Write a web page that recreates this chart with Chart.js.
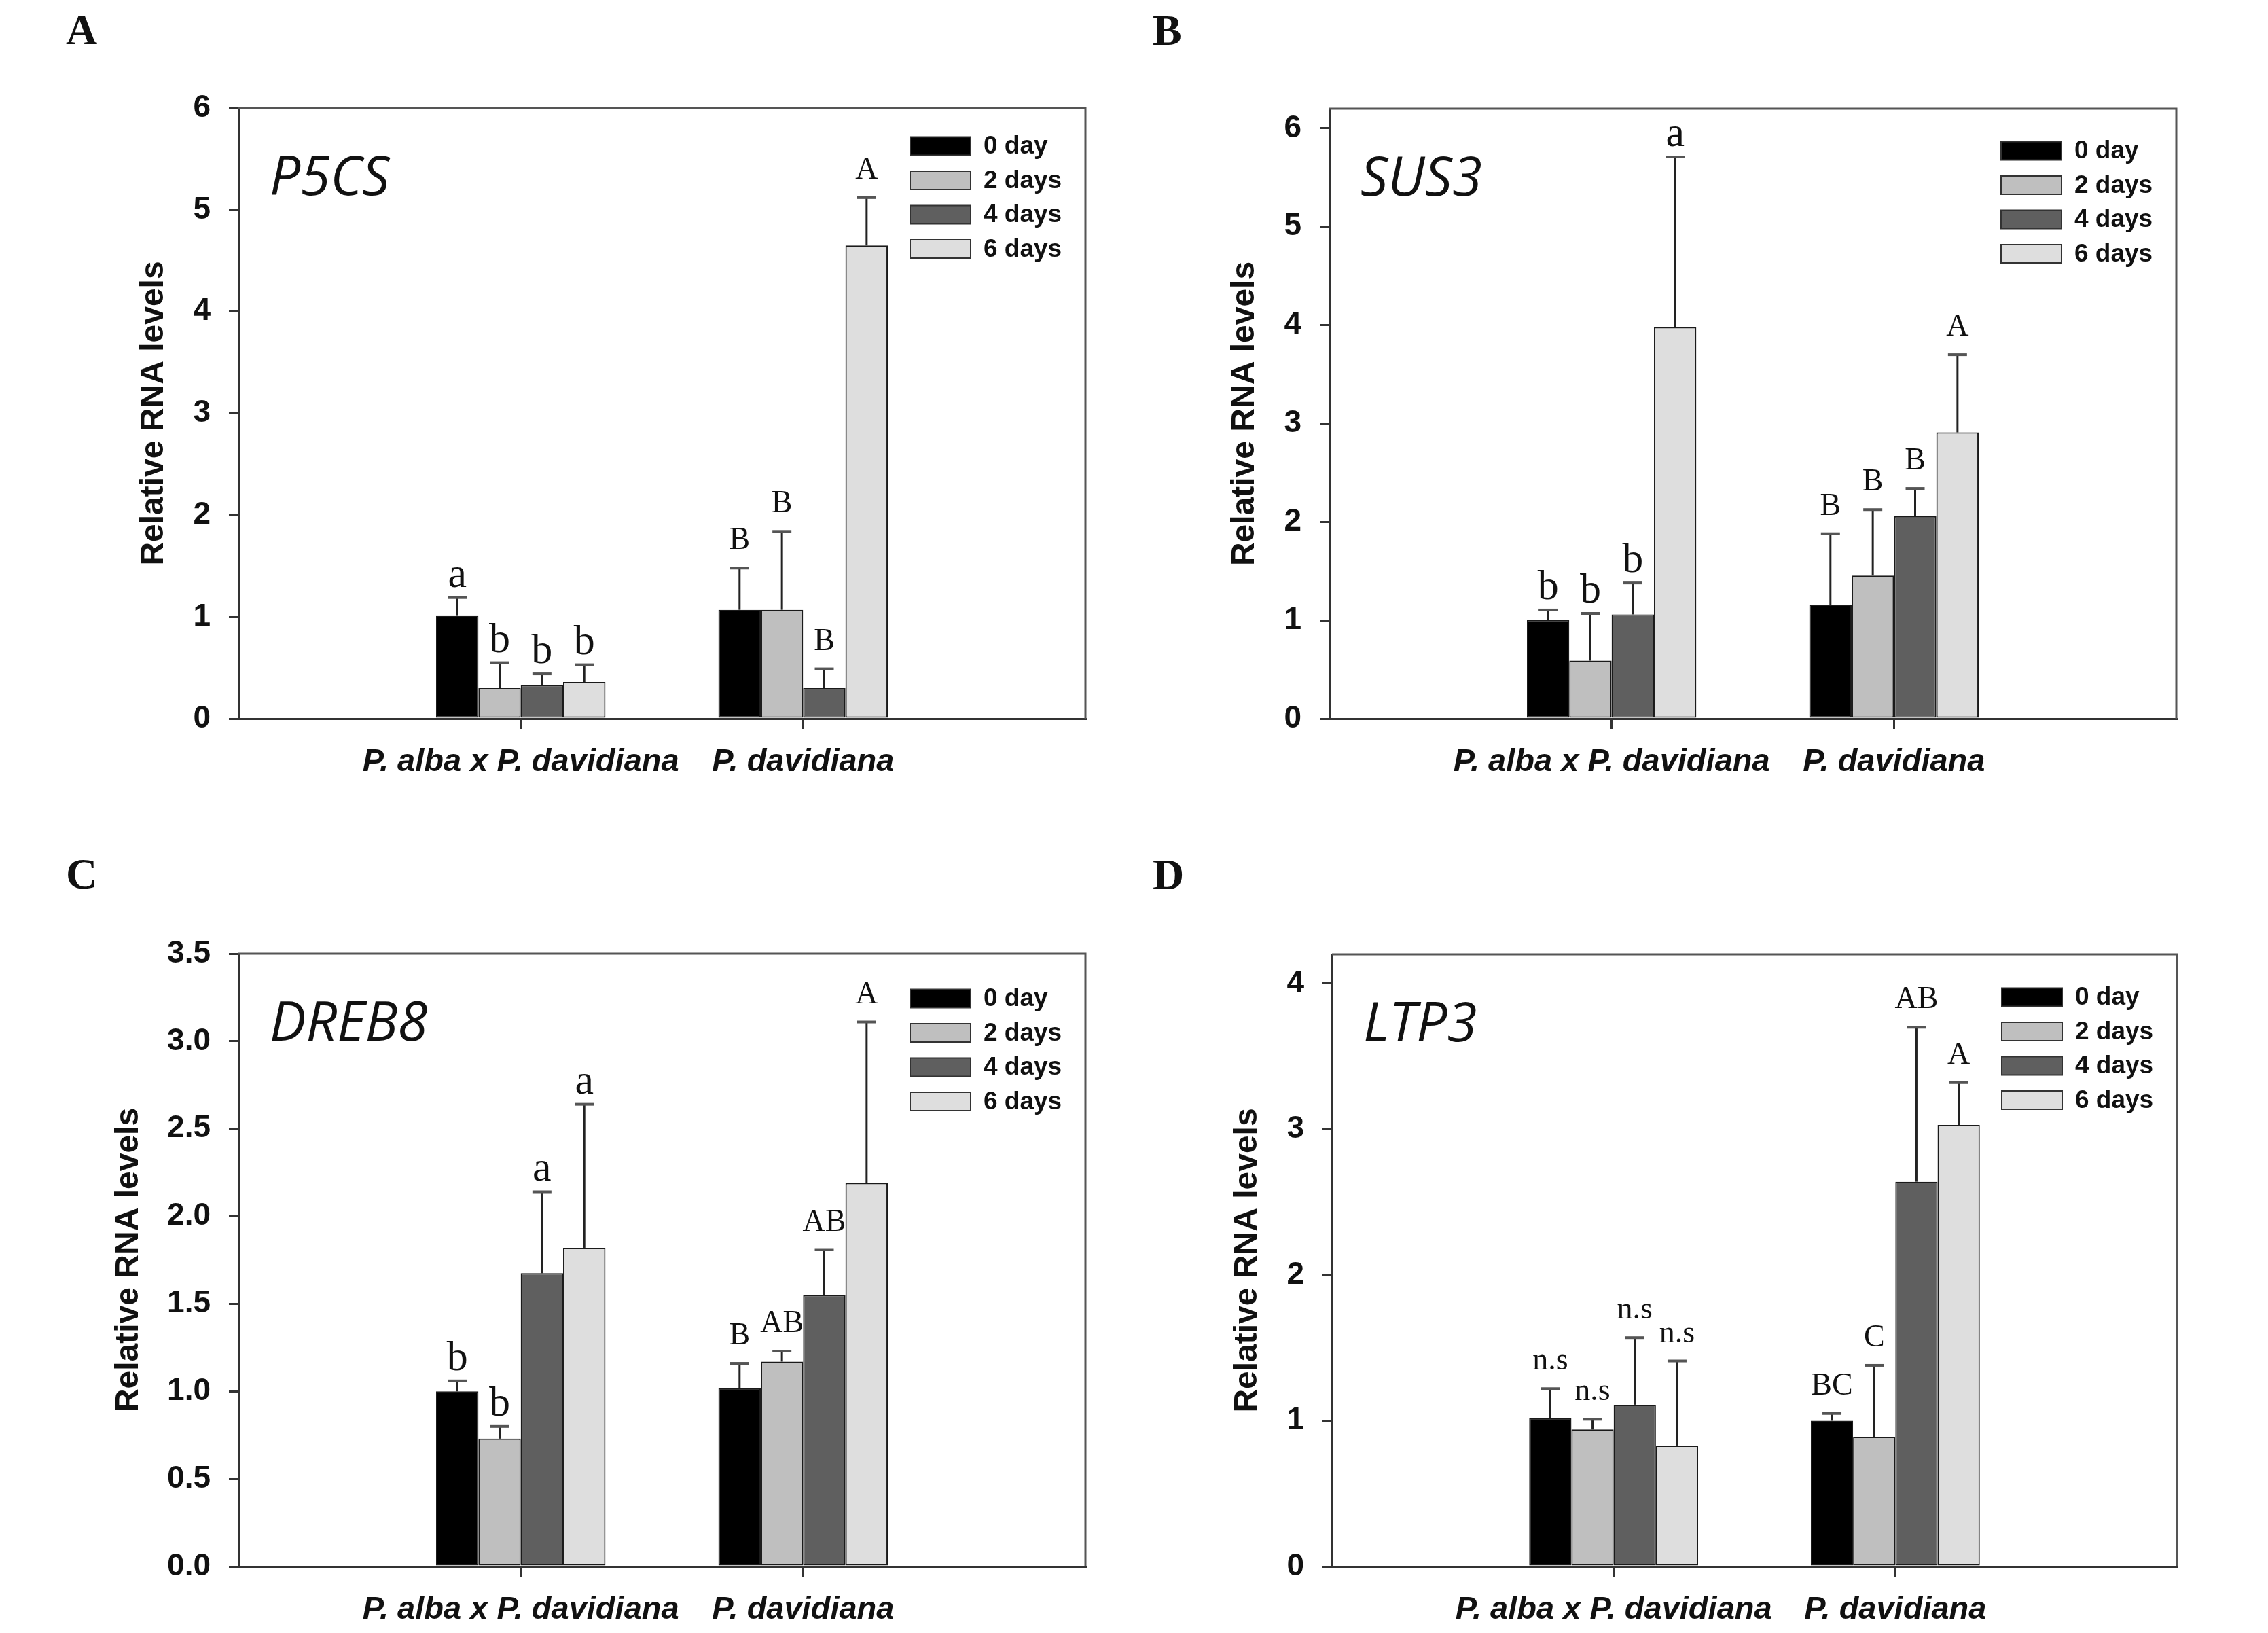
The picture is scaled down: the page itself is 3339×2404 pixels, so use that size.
<!DOCTYPE html>
<html>
<head>
<meta charset="utf-8">
<script src="https://cdn.jsdelivr.net/npm/chart.js@4.4.1/dist/chart.umd.min.js"></script>
<style>
  body { margin: 0; background: #fff; }
  #wrap { position: relative; width: 3339px; height: 2404px; background: #fff; }
  canvas { position: absolute; }
</style>
</head>
<body>
<div id="wrap">
  <canvas id="panelA" width="1669" height="1202" style="left:0;top:0"></canvas>
  <canvas id="panelB" width="1669" height="1202" style="left:1670px;top:0"></canvas>
  <canvas id="panelC" width="1669" height="1202" style="left:0;top:1202px"></canvas>
  <canvas id="panelD" width="1669" height="1202" style="left:1670px;top:1202px"></canvas>
</div>
<script>
const categories = ['P. alba x P. davidiana', 'P. davidiana'];
const days = ['0 day', '2 days', '4 days', '6 days'];
const dayColors = ['#000000', '#bfbfbf', '#5f5f5f', '#dedede'];

// one row per day, values for [P. alba x P. davidiana, P. davidiana]
const p5csMeans = [[1.01, 1.07], [0.30, 1.07], [0.33, 0.30], [0.36, 4.65]];
const p5csErrors = [[0.18, 0.41], [0.25, 0.77], [0.11, 0.19], [0.17, 0.47]];
const p5csLetters = [['a', 'B'], ['b', 'B'], ['b', 'B'], ['b', 'A']];

const sus3Means = [[1.005, 1.16], [0.59, 1.455], [1.06, 2.06], [3.98, 2.91]];
const sus3Errors = [[0.10, 0.72], [0.48, 0.67], [0.32, 0.28], [1.73, 0.79]];
const sus3Letters = [['b', 'B'], ['b', 'B'], ['b', 'B'], ['a', 'A']];

const dreb8Means = [[1.00, 1.02], [0.73, 1.17], [1.675, 1.55], [1.82, 2.19]];
const dreb8Errors = [[0.06, 0.14], [0.07, 0.06], [0.465, 0.26], [0.82, 0.92]];
const dreb8Letters = [['b', 'B'], ['b', 'AB'], ['a', 'AB'], ['a', 'A']];

const ltp3Means = [[1.02, 1.00], [0.94, 0.89], [1.11, 2.64], [0.83, 3.03]];
const ltp3Errors = [[0.20, 0.05], [0.07, 0.49], [0.46, 1.06], [0.58, 0.29]];
const ltp3Letters = [['n.s', 'BC'], ['n.s', 'C'], ['n.s', 'AB'], ['n.s', 'A']];

const SANS = '"Liberation Sans", Arial, sans-serif';
const SERIF = '"Liberation Serif", "Times New Roman", serif';

function makeAnnotator(p) {
  return {
    id: 'annotator',
    afterDatasetsDraw(chart) {
      const ctx = chart.ctx;
      const { left, top, right, bottom } = chart.chartArea;
      const yScale = chart.scales.y;
      ctx.save();

      // top + right side of the frame
      ctx.strokeStyle = '#555';
      ctx.lineWidth = 3;
      ctx.beginPath();
      ctx.moveTo(left, top);
      ctx.lineTo(right, top);
      ctx.lineTo(right, bottom);
      ctx.stroke();

      // error bars and letters
      ctx.textAlign = 'center';
      ctx.textBaseline = 'alphabetic';
      chart.data.datasets.forEach((ds, i) => {
        chart.getDatasetMeta(i).data.forEach((bar, j) => {
          const mean = ds.data[j];
          if (mean == null) return;
          const err = p.errors[i][j - 1];
          const yTop = yScale.getPixelForValue(mean + err);
          ctx.strokeStyle = '#222';
          ctx.lineWidth = 3;
          ctx.beginPath();
          ctx.moveTo(bar.x, bar.y);
          ctx.lineTo(bar.x, yTop);
          ctx.stroke();
          ctx.strokeStyle = '#555';
          ctx.lineWidth = 4;
          ctx.beginPath();
          ctx.moveTo(bar.x - 14, yTop);
          ctx.lineTo(bar.x + 14, yTop);
          ctx.stroke();

          const letter = p.letters[i][j - 1];
          const lower = /^[a-z]$/.test(letter);
          ctx.fillStyle = '#111';
          ctx.font = (lower ? 62 : 46) + 'px ' + SERIF;
          ctx.fillText(letter, bar.x, yTop - (lower ? 16 : 28));
        });
      });

      // legend inside the plot
      ctx.font = 'bold 37px ' + SANS;
      ctx.textAlign = 'left';
      ctx.textBaseline = 'middle';
      chart.data.datasets.forEach((ds, i) => {
        const cy = top + p.legendTop + i * 50.5;
        const bx = right - 258;
        ctx.fillStyle = ds.backgroundColor;
        ctx.fillRect(bx, cy - 13.5, 89, 27);
        ctx.strokeStyle = '#333';
        ctx.lineWidth = 2;
        ctx.strokeRect(bx, cy - 13.5, 89, 27);
        ctx.fillStyle = '#111';
        ctx.fillText(ds.label, bx + 108, cy + 1);
      });

      // gene name
      ctx.textBaseline = 'alphabetic';
      ctx.font = 'italic 80px "Open Sans", "Noto Sans", sans-serif';
      ctx.fillStyle = '#111';
      ctx.fillText(p.gene, left + 46, top + 128);

      // panel tag
      ctx.font = 'bold 64px ' + SERIF;
      ctx.fillText(p.tag, p.tagX, p.tagY);

      ctx.restore();
    }
  };
}

function drawPanel(p) {
  const labels = ['', ...categories, ''];
  const datasets = days.map((d, i) => ({
    label: d,
    data: [null, ...p.means[i], null],
    backgroundColor: dayColors[i],
    borderColor: '#1a1a1a',
    borderWidth: 2,
    borderSkipped: false,
    categoryPercentage: 0.6,
    barPercentage: 1.0
  }));

  new Chart(document.getElementById(p.canvas), {
    type: 'bar',
    data: { labels, datasets },
    options: {
      responsive: false,
      animation: false,
      devicePixelRatio: 1,
      layout: { padding: p.padding },
      plugins: {
        legend: { display: false },
        tooltip: { enabled: false }
      },
      scales: {
        x: {
          offset: false,
          grid: {
            offset: false,
            drawOnChartArea: false,
            tickLength: 15,
            lineWidth: 3,
            tickColor: (c) => (c.index === 1 || c.index === 2) ? '#333' : 'rgba(0,0,0,0)'
          },
          border: { color: '#333', width: 3 },
          ticks: {
            autoSkip: false,
            maxRotation: 0,
            padding: 21,
            color: '#111',
            font: { family: SANS, size: 47, style: 'italic', weight: 'bold' }
          },
          afterFit: (s) => { s.height = 90; }
        },
        y: {
          min: 0,
          max: p.yMax,
          grid: { drawOnChartArea: false, tickLength: 14, lineWidth: 3, tickColor: '#333' },
          border: { color: '#333', width: 3 },
          ticks: {
            stepSize: p.yStep,
            includeBounds: false,
            padding: 27,
            color: '#111',
            font: { family: SANS, size: 46, weight: 'bold' },
            callback: (v) => v.toFixed(p.decimals)
          },
          title: {
            display: true,
            text: 'Relative RNA levels',
            color: '#111',
            padding: 0,
            font: { family: SANS, size: 48, weight: 'bold' }
          },
          afterFit: (s) => { s.width = p.yAxisWidth; }
        }
      }
    },
    plugins: [makeAnnotator(p)]
  });
}

drawPanel({
  canvas: 'panelA', gene: 'P5CS', tag: 'A', tagX: 97, tagY: 65,
  means: p5csMeans, errors: p5csErrors, letters: p5csLetters,
  yMax: 6, yStep: 1, decimals: 0,
  padding: { left: 198, top: 159, right: 71, bottom: 54 }, yAxisWidth: 153, legendTop: 56
});
drawPanel({
  canvas: 'panelB', gene: 'SUS3', tag: 'B', tagX: 27, tagY: 66,
  means: sus3Means, errors: sus3Errors, letters: sus3Letters,
  yMax: 6.2, yStep: 1, decimals: 0,
  padding: { left: 134, top: 160, right: 135, bottom: 54 }, yAxisWidth: 153, legendTop: 62
});
drawPanel({
  canvas: 'panelC', gene: 'DREB8', tag: 'C', tagX: 97, tagY: 106,
  means: dreb8Means, errors: dreb8Errors, letters: dreb8Letters,
  yMax: 3.5, yStep: 0.5, decimals: 1,
  padding: { left: 161, top: 202, right: 71, bottom: 8 }, yAxisWidth: 190, legendTop: 66
});
drawPanel({
  canvas: 'panelD', gene: 'LTP3', tag: 'D', tagX: 27, tagY: 107,
  means: ltp3Means, errors: ltp3Errors, letters: ltp3Letters,
  yMax: 4.2, yStep: 1, decimals: 0,
  padding: { left: 138, top: 203, right: 134, bottom: 8 }, yAxisWidth: 153, legendTop: 63
});
</script>
</body>
</html>
